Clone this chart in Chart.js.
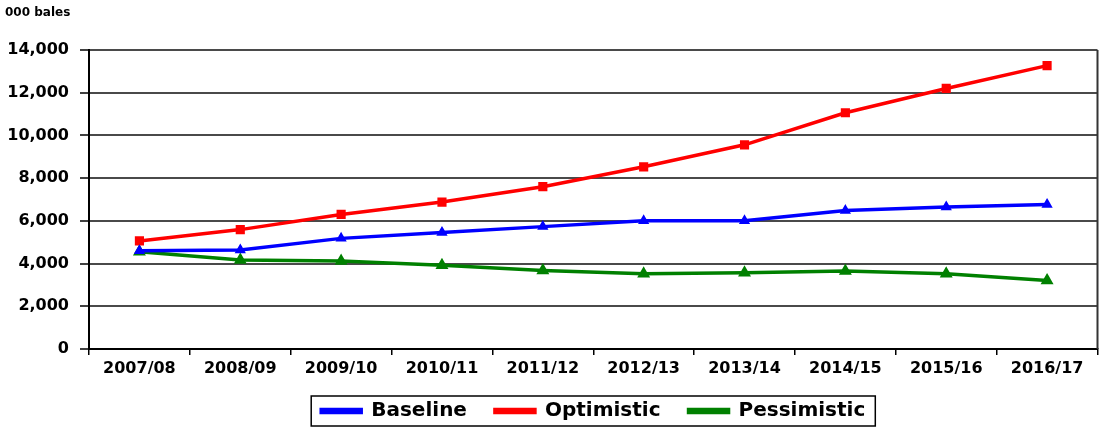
<!DOCTYPE html>
<html>
<head>
<meta charset="utf-8">
<script src="https://cdn.jsdelivr.net/npm/chart.js@4.4.1/dist/chart.umd.min.js"></script>
<style>
  html, body { margin: 0; padding: 0; background: #fff; }
  #wrap { width: 1105px; height: 430px; position: relative; }
</style>
</head>
<body>
<div id="wrap"><canvas id="c" width="1105" height="430"></canvas></div>
<script>
const categories = ['2007/08','2008/09','2009/10','2010/11','2011/12','2012/13','2013/14','2014/15','2015/16','2016/17'];
const baseline    = [4600, 4640, 5180, 5460, 5730, 6000, 6000, 6480, 6650, 6770];
const optimistic  = [5060, 5590, 6300, 6880, 7600, 8530, 9560, 11060, 12200, 13270];
const pessimistic = [4550, 4170, 4120, 3920, 3680, 3520, 3570, 3650, 3520, 3210];
const yTicks = [0, 2000, 4000, 6000, 8000, 10000, 12000, 14000];
const unitLabel = '000 bales';

const FONT = '"DejaVu Sans", Verdana, sans-serif';

const framePlugin = {
  id: 'frame',
  afterLayout(chart) {
    const lg = chart.legend, a = chart.chartArea;
    if (lg) {
      lg.left = a.left;
      lg.right = a.right;
      lg.width = a.right - a.left;
      lg.top -= 3;
      lg.bottom -= 3;
    }
  },
  afterDraw(chart) {
    const ctx = chart.ctx, a = chart.chartArea;
    ctx.save();
    ctx.strokeStyle = '#333';
    ctx.lineWidth = 2;
    ctx.beginPath();
    ctx.moveTo(a.right, a.top);
    ctx.lineTo(a.right, a.bottom);
    ctx.stroke();
    ctx.fillStyle = '#000';
    ctx.font = 'bold 12px ' + FONT;
    ctx.textBaseline = 'top';
    ctx.textAlign = 'left';
    ctx.fillText(unitLabel, 5, 7);
    const lg = chart.legend;
    if (lg && lg.legendHitBoxes && lg.legendHitBoxes.length) {
      let l = Infinity, r = -Infinity, t = Infinity, b = -Infinity;
      lg.legendHitBoxes.forEach(h => {
        l = Math.min(l, h.left); r = Math.max(r, h.left + h.width);
        t = Math.min(t, h.top); b = Math.max(b, h.top + h.height);
      });
      ctx.strokeStyle = '#000';
      ctx.lineWidth = 1.5;
      ctx.strokeRect(l - 10, t - 5, (r - l) + 20, (b - t) + 10);
    }
    ctx.restore();
  }
};

new Chart(document.getElementById('c'), {
  type: 'line',
  data: {
    labels: categories,
    datasets: [
      { label: 'Baseline', data: baseline, borderColor: '#0000ff', backgroundColor: '#0000ff',
        borderWidth: 3.5, pointStyle: 'triangle', pointRadius: 3, tension: 0 },
      { label: 'Optimistic', data: optimistic, borderColor: '#ff0000', backgroundColor: '#ff0000',
        borderWidth: 3.5, pointStyle: 'rect', pointRadius: 4, tension: 0 },
      { label: 'Pessimistic', data: pessimistic, borderColor: '#008000', backgroundColor: '#008000',
        borderWidth: 3.5, pointStyle: 'triangle', pointRadius: 4, tension: 0 }
    ]
  },
  options: {
    responsive: false,
    animation: false,
    devicePixelRatio: 1,
    layout: { padding: { top: 50, right: 4, left: 0, bottom: 0 } },
    plugins: {
      legend: {
        position: 'bottom',
        maxHeight: 54,
        labels: {
          color: '#000',
          font: { family: FONT, size: 20, weight: 'bold' },
          boxWidth: 40,
          boxHeight: 3,
          padding: 28
        }
      },
      tooltip: { enabled: false }
    },
    scales: {
      x: {
        offset: true,
        grid: { drawOnChartArea: false, drawTicks: true, tickLength: 6, color: '#000', lineWidth: 1.5, offset: true },
        border: { color: '#000', width: 2 },
        ticks: { color: '#000', font: { family: FONT, size: 16, weight: 'bold' }, padding: 4, maxRotation: 0, autoSkip: false },
        afterFit(s) { s.height = 27; }
      },
      y: {
        min: 0, max: 14000,
        afterBuildTicks(s) { s.ticks = yTicks.map(v => ({ value: v })); },
        grid: { color: '#4a4a4a', lineWidth: 2, tickLength: 9, tickColor: '#000', tickWidth: 1.5 },
        border: { color: '#000', width: 2 },
        ticks: {
          color: '#000', font: { family: FONT, size: 16, weight: 'bold' }, padding: 11,
          callback: v => Number(v).toLocaleString('en-US')
        },
        afterFit(s) { s.width = 89; }
      }
    }
  },
  plugins: [framePlugin]
});
</script>
</body>
</html>
